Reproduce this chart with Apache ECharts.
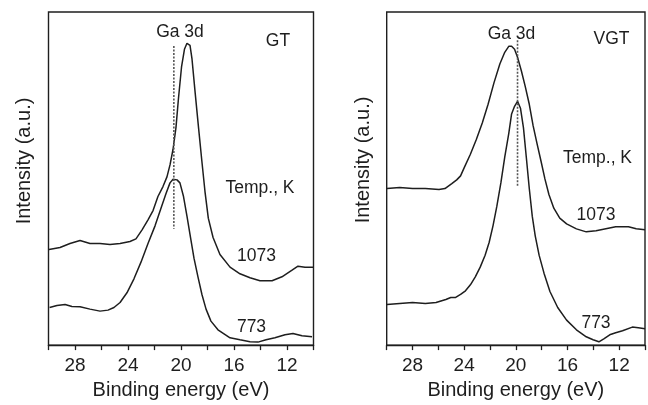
<!DOCTYPE html>
<html>
<head>
<meta charset="utf-8">
<script src="https://cdn.jsdelivr.net/npm/echarts@6/dist/echarts.min.js"></script>
<style>
html,body{margin:0;padding:0;background:#fff;}
#chart{width:648px;height:405px;}
</style>
</head>
<body>
<div id="chart"></div>
<script>
// ---------- DATA ----------
// Left panel (GT), 1073 K
const gt1073E = [29.96,29.13,28.38,27.62,26.87,26.11,25.36,24.6,23.85,23.4,22.94,22.49,22.11,21.74,21.36,21.06,20.83,20.6,20.38,20.19,19.96,19.74,19.55,19.32,19.17,18.94,18.69,18.44,18.19,17.94,17.58,17.06,16.3,15.55,14.79,14.04,13.13,12.38,11.62,11.17,10.64,10.04];
const gt1073I = [28.7,29.3,30.5,31.4,30.5,30.5,30.2,30.5,31.1,31.9,34.6,37.6,40.4,44.6,47.6,50.5,54.1,58.8,65.3,74.1,83.5,88.8,90.6,90.0,85.9,76.1,65.8,55.8,46.1,38.1,32.3,27.2,23.4,21.4,20.2,19.3,19.3,20.5,22.5,23.7,23.4,23.4];
// Left panel (GT), 773 K
const gt773E = [29.92,29.36,28.75,28.23,27.62,26.87,26.11,25.51,25.06,24.6,24.08,23.55,23.02,22.49,21.96,21.51,21.13,20.83,20.6,20.3,20.08,19.81,19.55,19.28,19.02,18.72,18.42,18.11,17.74,17.21,16.3,15.55,14.79,14.19,13.58,12.91,12.15,11.55,10.87,10.11];
const gt773I = [11.3,11.9,12.2,11.6,11.5,10.8,10.2,10.5,11.3,12.8,15.7,19.9,24.9,30.5,35.8,41.1,45.5,48.7,49.8,49.6,48.7,44.6,38.7,32.3,26.1,20.5,15.2,10.8,7.2,4.6,2.2,1.6,1.0,0.9,1.6,2.2,3.1,3.5,2.8,2.5];
// Right panel (VGT), 1073 K
const vgt1073E = [29.98,28.99,28.0,27.01,25.95,25.49,24.96,24.58,24.28,23.97,23.52,23.06,22.6,22.15,21.69,21.24,20.86,20.55,20.33,20.1,19.87,19.57,19.27,18.96,18.66,18.36,18.05,17.75,17.44,17.06,16.6,16.07,15.31,14.55,13.79,13.03,12.27,11.28,10.68,10.0];
const vgt1073I = [47.0,47.3,47.0,47.0,46.7,47.0,48.5,49.6,50.8,53.5,57.3,61.7,66.7,72.3,78.8,84.4,87.9,89.7,89.7,88.8,86.4,82.3,77.6,72.3,65.8,60.5,55.2,49.9,45.2,41.1,38.1,36.4,34.9,34.0,34.3,34.9,35.5,35.5,34.9,34.6];
// Right panel (VGT), 773 K
const vgt773E = [29.98,28.99,28.0,27.01,26.18,25.42,25.04,24.66,24.28,23.9,23.52,23.14,22.76,22.38,22.07,21.77,21.47,21.16,20.86,20.55,20.33,20.1,19.87,19.64,19.41,19.19,18.96,18.73,18.5,18.2,17.82,17.36,16.76,16.07,15.31,14.55,14.02,13.57,13.19,12.73,12.27,11.74,10.98,10.52,10.0];
const vgt773I = [12.2,12.5,12.8,12.5,12.8,13.7,14.3,14.3,15.2,16.3,18.1,20.5,23.4,27.0,30.8,35.8,41.7,48.7,56.4,63.5,69.4,71.7,73.2,71.1,65.2,56.4,47.0,38.7,32.8,27.0,21.6,16.1,11.3,7.5,4.6,2.5,1.6,1.0,1.9,3.1,3.7,4.3,5.4,5.2,4.9];
// Ga 3d reference lines: [energy, top intensity, bottom intensity]
const gtGaLine = [20.54, 89.8, 34.9];
const vgtGaLine = [19.87, 91.5, 47.6];
// Axis tick labels
const xTickLabels = [28, 24, 20, 16, 12];
const xMin = 10, xMax = 30;

// ---------- CHART ----------
const FONT = '"Liberation Sans", Arial, Helvetica, sans-serif';
const INK = '#1e1e1e';
const zip = (a, b) => a.map((v, i) => [v, b[i]]);

function xAxisFor(gi) {
  return {
    gridIndex: gi, type: 'value', min: xMin, max: xMax, interval: 2, inverse: true,
    name: 'Binding energy (eV)', nameLocation: 'middle', nameGap: 33,
    nameTextStyle: {fontFamily: FONT, fontSize: 20, color: INK},
    axisLine: {show: true, onZero: false, lineStyle: {color: INK, width: 1.4}},
    axisTick: {show: true, inside: false, length: 5, lineStyle: {color: INK, width: 1.3}},
    axisLabel: {
      margin: 11, fontFamily: FONT, fontSize: 19, color: INK,
      formatter: v => (xTickLabels.indexOf(v) >= 0 ? String(v) : '')
    },
    splitLine: {show: false}
  };
}
function yAxisFor(gi) {
  return {gridIndex: gi, type: 'value', min: 0, max: 100, show: false};
}
function curve(gi, E, I) {
  return {
    type: 'line', xAxisIndex: gi, yAxisIndex: gi, data: zip(E, I),
    symbol: 'none', smooth: false,
    lineStyle: {color: INK, width: 1.5}
  };
}
function refLine(gi, L) {
  return {
    type: 'line', xAxisIndex: gi, yAxisIndex: gi, data: [[L[0], L[1]], [L[0], L[2]]],
    symbol: 'none', lineStyle: {color: '#555', width: 1.6, type: [2, 1.5]}
  };
}
function txt(x, y, s, size, rot) {
  return {
    type: 'text', x: x, y: y, rotation: rot || 0,
    style: {text: s, fontFamily: FONT, fontSize: size, fill: INK, align: 'center', verticalAlign: 'middle'}
  };
}

const chart = echarts.init(document.getElementById('chart'), null, {renderer: 'canvas'});
chart.setOption({
  animation: false,
  backgroundColor: '#fff',
  grid: [
    {left: 48.5, top: 12, width: 265, height: 339.5, show: true, borderColor: INK, borderWidth: 1.4, backgroundColor: 'transparent'},
    {left: 386.7, top: 12, width: 263.6, height: 339.5, show: true, borderColor: INK, borderWidth: 1.4, backgroundColor: 'transparent'}
  ],
  xAxis: [xAxisFor(0), xAxisFor(1)],
  yAxis: [yAxisFor(0), yAxisFor(1)],
  series: [
    curve(0, gt1073E, gt1073I),
    curve(0, gt773E, gt773I),
    refLine(0, gtGaLine),
    curve(1, vgt1073E, vgt1073I),
    curve(1, vgt773E, vgt773I),
    refLine(1, vgtGaLine)
  ],
  graphic: [
    txt(24, 161, 'Intensity (a.u.)', 20, Math.PI / 2),
    txt(363.5, 160, 'Intensity (a.u.)', 20, Math.PI / 2),
    txt(180, 32, 'Ga 3d', 17.5),
    txt(278, 41, 'GT', 17.5),
    txt(260, 188, 'Temp., K', 17.5),
    txt(256.5, 256, '1073', 17.5),
    txt(251.5, 327, '773', 17.5),
    txt(511.5, 34, 'Ga 3d', 17.5),
    txt(611.5, 39, 'VGT', 17.5),
    txt(597.5, 158, 'Temp., K', 17.5),
    txt(596, 215, '1073', 17.5),
    txt(596, 323, '773', 17.5)
  ]
});
</script>
</body>
</html>
